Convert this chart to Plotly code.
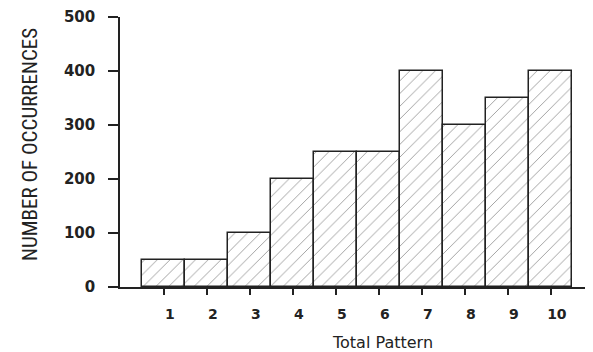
import plotly.graph_objects as go

patterns = [1, 2, 3, 4, 5, 6, 7, 8, 9, 10]
occurrences = [50, 50, 100, 200, 250, 250, 400, 300, 350, 400]
y_ticks = [0, 100, 200, 300, 400, 500]

fig = go.Figure()
fig.add_trace(go.Bar(
    x=patterns,
    y=occurrences,
    width=1.0,
    marker=dict(
        color="white",
        line=dict(color="#222", width=1.5),
        pattern=dict(shape="/", fgcolor="#333", bgcolor="white", size=9, solidity=0.1),
    ),
))

fig.update_layout(
    width=593, height=352,
    margin=dict(l=112, r=8, t=9, b=73, autoexpand=False),
    plot_bgcolor="white", paper_bgcolor="white",
    showlegend=False,
    bargap=0,
    font=dict(family="DejaVu Sans", color="#222"),
    xaxis=dict(
        range=[-0.02, 10.98],
        automargin=False,
        tickvals=patterns,
        ticktext=[str(p) for p in patterns],
        ticks="outside", ticklen=6, tickcolor="#222", tickwidth=1.5,
        showline=True, linecolor="#222", linewidth=1.5,
        showgrid=False, zeroline=False,
        tickfont=dict(family="DejaVu Sans", size=14, color="#222", weight="bold"),
        ticklabelstandoff=7,
        ticklabelshift=6,
    ),
    yaxis=dict(
        range=[0, 500],
        automargin=False,
        tickvals=y_ticks,
        ticks="outside", ticklen=10, tickcolor="#222", tickwidth=1.5,
        showline=True, linecolor="#222", linewidth=1.5,
        showgrid=False, zeroline=False,
        tickfont=dict(family="DejaVu Sans", size=15, color="#222", weight="bold"),
        ticklabelstandoff=10,
    ),
    annotations=[
        dict(text="Total Pattern", xref="paper", yref="paper", x=0.556, y=-0.204,
             xanchor="center", yanchor="middle", showarrow=False,
             font=dict(family="DejaVu Sans", size=16, color="#222")),
        dict(text="NUMBER OF OCCURRENCES", xref="paper", yref="paper", x=-0.190, y=0.526,
             xanchor="center", yanchor="middle", showarrow=False, textangle=-90,
             font=dict(family="Liberation Sans Narrow, Roboto Condensed, Liberation Sans", size=21, color="#222")),
    ],
)

fig.write_html("out.html")
